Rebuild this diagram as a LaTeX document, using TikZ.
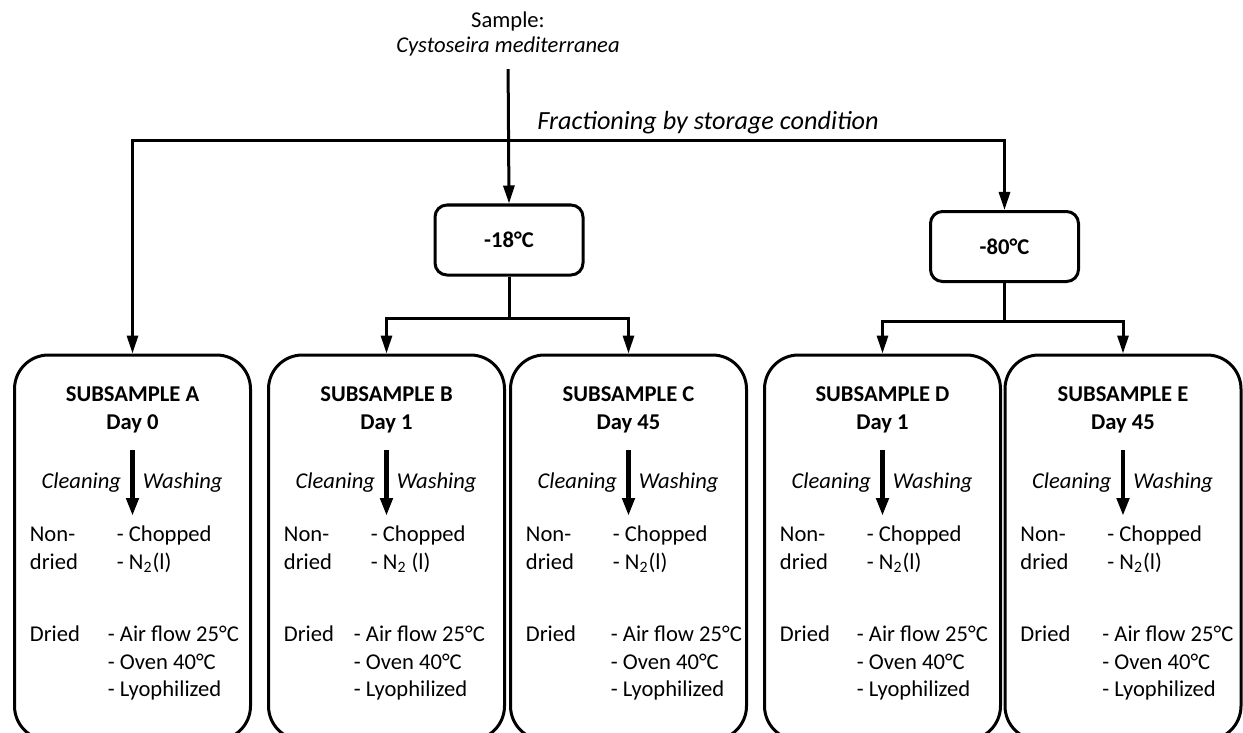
\documentclass[tikz,border=0pt]{standalone}
\usepackage{fontspec}
\setmainfont{Carlito}
\usetikzlibrary{arrows.meta}

\begin{document}
\begin{tikzpicture}[x=0.5pt,y=-0.5pt]
				\tikzstyle{every node}=[font=\fontsize{11.3}{14}\selectfont, inner sep=0pt]
				\tikzstyle{tempbox}=[draw, line width=1.5pt, rounded corners=6pt, minimum width=74pt, minimum height=35pt, font=\fontsize{11.3}{14}\selectfont\bfseries]
				\tikzstyle{subbox}=[draw, line width=1.5pt, rounded corners=17pt, minimum width=118pt, minimum height=192.5pt]
				\tikzstyle{title}=[anchor=base, font=\fontsize{11.3}{14}\selectfont\bfseries]
				\tikzstyle{step label}=[font=\fontsize{11.3}{14}\selectfont\itshape]
				\tikzstyle{link}=[line width=1.5pt]
				\tikzstyle{flow}=[link, -{Triangle[length=9pt,width=5.5pt]}]
				\tikzstyle{proc}=[line width=2.3pt, -{Triangle[length=9pt,width=6pt]}]
				
				\useasboundingbox (0,0) rectangle (1243,733);
				\clip (0,0) rectangle (1243,733);
				
				\node[anchor=base] (sample) at (508,28) {Sample:};
				\node[anchor=base, step label] (species) at (508,53) {Cystoseira mediterranea};
				\node[anchor=base west, font=\fontsize{13.1}{16}\selectfont\itshape] (fraction) at (537,130) {Fractioning by storage condition};
				
				\node[tempbox] (m18) at (509,240) {-18°C};
				\node[tempbox] (m80) at (1004.5,246.5) {-80°C};
				
				\foreach \cx/\id/\day/\ntwo/\dx in {132.5/A/0/{N\textsubscript{2}(l)}/25, 386.5/B/1/{N\textsubscript{2} (l)}/33, 628.5/C/45/{N\textsubscript{2}(l)}/18, 882.5/D/1/{N\textsubscript{2}(l)}/26, 1123/E/45/{N\textsubscript{2}(l)}/21}{
					\node[subbox] (box\id) at (\cx,547.5) {};
					\node[title] (title\id) at (\cx,401) {SUBSAMPLE \id};
					\node[title] (day\id) at (\cx,429) {Day \day};
					\coordinate (top\id) at (\cx,450);
					\coordinate (bot\id) at (\cx,516);
					\draw[proc] (top\id) -- (bot\id);
					\node[anchor=base east, step label] (clean\id) at (\cx-11,488) {Cleaning};
					\node[anchor=base west, step label] (wash\id) at (\cx+10,488) {Washing};
					\node[anchor=base west] (non\id) at (\cx-103,541) {Non-};
					\node[anchor=base west] (nondried\id) at (\cx-103,569) {dried};
					\node[anchor=base west] (chop\id) at (\cx-16,541) {- Chopped};
					\node[anchor=base west] (nitro\id) at (\cx-16,569) {- \ntwo};
					\node[anchor=base west] (dried\id) at (\cx-103,641) {Dried};
					\node[anchor=base west] (air\id) at (\cx-\dx,641) {- Air flow 25°C};
					\node[anchor=base west] (oven\id) at (\cx-\dx,669) {- Oven 40°C};
					\node[anchor=base west] (lyo\id) at (\cx-\dx,696) {- Lyophilized};
				}
				
				\coordinate (bus) at (508,141);
				\path (m18.south) ++(0,42) coordinate (split18);
				\path (m80.south) ++(0,38) coordinate (split80);
				
				\draw[flow, shorten <=6pt] (species.south) -- (m18.north);
				\draw[flow] (bus) -| (boxA.north);
				\draw[flow] (bus) -| (m80.north);
				\draw[link] (m18.south) -- (split18);
				\draw[flow] (split18) -| (boxB.north);
				\draw[flow] (split18) -| (boxC.north);
				\draw[link] (m80.south) -- (split80);
				\draw[flow] (split80) -| (boxD.north);
				\draw[flow] (split80) -| (boxE.north);
				
				;\end{tikzpicture}
\end{document}
